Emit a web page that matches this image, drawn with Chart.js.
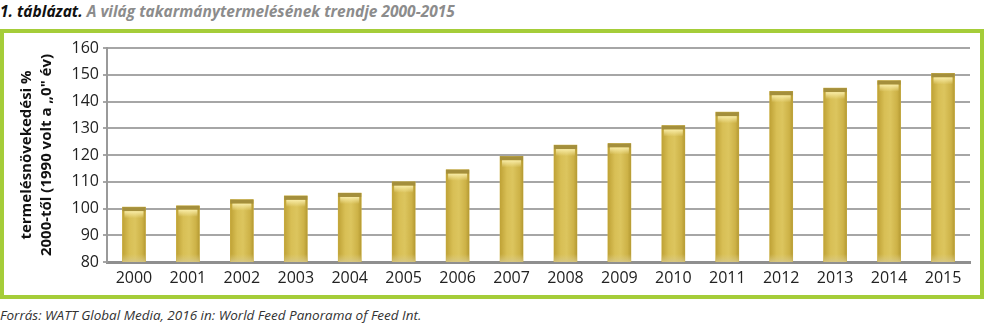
<!DOCTYPE html>
<html>
<head>
<meta charset="utf-8">
<script src="https://cdn.jsdelivr.net/npm/chart.js@4/dist/chart.umd.min.js"></script>
<style>
  html, body { margin: 0; padding: 0; background: #fff; width: 986px; height: 326px; overflow: hidden; }
  #head { position: absolute; left: 0; top: 0px; font-family: "Open Sans", sans-serif; font-size: 15.5px; font-weight: bold; font-style: italic; white-space: nowrap; }
  #head .n { color: #111; }
  #head .t { color: #8c8c8c; }
  #box { position: absolute; left: 0; top: 29px; width: 976px; height: 262px; border: 4px solid #a5cd39; }
  #wrap { position: absolute; left: 0; top: 0; width: 975px; height: 262px; }
  #foot { position: absolute; left: 0; top: 306px; font-family: "Open Sans", sans-serif; font-size: 13.5px; font-style: italic; color: #333; white-space: nowrap; }
</style>
</head>
<body>
<div id="head"><span class="n">1. táblázat.</span> <span class="t">A világ takarmánytermelésének trendje 2000-2015</span></div>
<div id="box"><div id="wrap"><canvas id="c"></canvas></div></div>
<div id="foot">Forrás: WATT Global Media, 2016 in: World Feed Panorama of Feed Int.</div>
<script>
const years = ['2000','2001','2002','2003','2004','2005','2006','2007','2008','2009','2010','2011','2012','2013','2014','2015'];
const growth = [100.5, 101, 103.3, 104.7, 105.8, 110, 114.5, 119.5, 123.7, 124.3, 131, 136, 143.8, 145, 147.8, 150.5];
const yTitle = ['termelésnövekedési %', '2000-től (1990 volt a „0" év)'];
const yMin = 80, yMax = 160, yStep = 10;

const barLook = {
  id: 'barLook',
  afterDatasetsDraw(chart) {
    const ctx = chart.ctx;
    const area = chart.chartArea;
    const meta = chart.getDatasetMeta(0);
    meta.data.forEach(el => {
      const p = el.getProps(['x', 'y', 'base', 'width'], true);
      const l = p.x - p.width / 2, r = p.x + p.width / 2, t = p.y;
      const b = Math.min(p.base, area.bottom);
      const g = ctx.createLinearGradient(l, 0, r, 0);
      g.addColorStop(0, '#bfa236');
      g.addColorStop(0.3, '#d8bf55');
      g.addColorStop(0.55, '#dcc55e');
      g.addColorStop(0.85, '#cdb247');
      g.addColorStop(1, '#b59a33');
      ctx.save();
      ctx.fillStyle = g;
      ctx.fillRect(l, t, r - l, b - t);
      ctx.fillStyle = '#a48f3c';
      ctx.fillRect(l, t, r - l, 4);
      const h = ctx.createLinearGradient(0, t + 4, 0, t + 11);
      h.addColorStop(0, 'rgba(250,238,170,0.95)');
      h.addColorStop(1, 'rgba(250,238,170,0)');
      ctx.fillStyle = h;
      ctx.fillRect(l + 2, t + 4, r - l - 4, 7);
      const bb = ctx.createLinearGradient(0, b - 8, 0, b);
      bb.addColorStop(0, 'rgba(220,205,130,0)');
      bb.addColorStop(1, 'rgba(215,200,140,0.8)');
      ctx.fillStyle = bb;
      ctx.fillRect(l, b - 8, r - l, 8);
      ctx.restore();
    });
  }
};

new Chart(document.getElementById('c'), {
  type: 'bar',
  data: {
    labels: years,
    datasets: [{
      data: growth,
      backgroundColor: '#d2b74c',
      borderWidth: 0,
      barThickness: 23
    }]
  },
  options: {
    responsive: true,
    maintainAspectRatio: false,
    animation: false,
    layout: { padding: { left: 0, top: 15, right: 9, bottom: 0 } },
    plugins: { legend: { display: false }, tooltip: { enabled: false } },
    scales: {
      x: {
        grid: { display: false, drawTicks: false },
        border: { display: true, color: '#8f8f8f', width: 3 },
        ticks: { color: '#222', padding: 7, font: { family: 'Open Sans', size: 16 }, maxRotation: 0, autoSkip: false },
        afterFit(s) { s.height = 33; }
      },
      y: {
        min: yMin, max: yMax,
        ticks: { stepSize: yStep, color: '#222', padding: 4, font: { family: 'Open Sans', size: 16 } },
        grid: { color: '#a6a6a6', lineWidth: 2, tickLength: 4, drawOnChartArea: true },
        border: { display: true, color: '#9a9a9a', width: 2 },
        title: {
          display: true,
          text: yTitle,
          color: '#111',
          font: { family: 'Open Sans', size: 15, weight: 'bold', lineHeight: 1.33 },
          padding: { top: 13, bottom: 0 }
        },
        afterFit(s) { s.width = 103; }
      }
    }
  },
  plugins: [barLook]
});
</script>
</body>
</html>
